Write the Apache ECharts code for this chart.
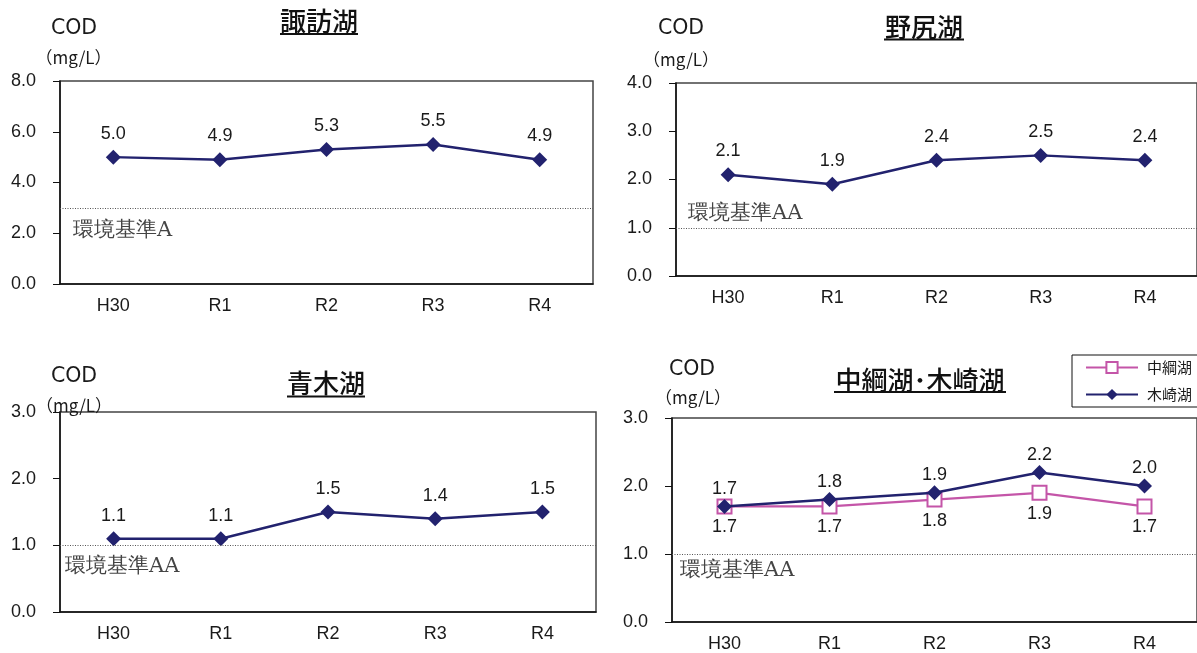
<!DOCTYPE html>
<html><head><meta charset="utf-8">
<script src="https://cdn.jsdelivr.net/npm/echarts@6/dist/echarts.min.js"></script>
<style>html,body{margin:0;padding:0;background:#fff}#c{width:1197px;height:653px}</style>
</head><body><div id="c"></div>
<script>
// ---- data ----
const years = ['H30', 'R1', 'R2', 'R3', 'R4'];
const suwa = [5.0, 4.9, 5.3, 5.5, 4.9];
const nojiri = [2.1, 1.9, 2.4, 2.5, 2.4];
const aoki = [1.1, 1.1, 1.5, 1.4, 1.5];
const nakatsuna = [1.7, 1.7, 1.8, 1.9, 1.7];
const kizaki = [1.7, 1.8, 1.9, 2.2, 2.0];
const titles = ['諏訪湖', '野尻湖', '青木湖', '中綱湖･木崎湖'];
const stdNames = ['環境基準A', '環境基準AA', '環境基準AA', '環境基準AA'];
const stdValues = [3.0, 1.0, 1.0, 1.0];
const yMax = [8, 4, 3, 3];
const yStep = [2, 1, 1, 1];
const seriesNames = ['諏訪湖', '野尻湖', '青木湖', '中綱湖', '木崎湖'];

// ---- styling / layout ----
const NAVY = '#22226e', PINK = '#c455a8';
const FONT = '"Liberation Sans", Arial, sans-serif';
const TXT = '#1a1a1a';
const grids = [
  {left: 60, top: 81, width: 533, height: 203},
  {left: 676, top: 83, width: 528, height: 193},
  {left: 60, top: 412, width: 536, height: 200},
  {left: 672, top: 418, width: 535, height: 204}
];
const stdLabel = [
  {pos: 'insideStartBottom', dist: [13, 12]},
  {pos: 'insideStartTop', dist: [12, 4]},
  {pos: 'insideStartBottom', dist: [5, 11]},
  {pos: 'insideStartBottom', dist: [8, 6]}
];

const chart = echarts.init(document.getElementById('c'));

const xAxes = grids.map((g, i) => ({
  type: 'category', gridIndex: i, data: years, boundaryGap: true,
  axisLine: {lineStyle: {color: '#111', width: 1.5}},
  axisTick: {show: false},
  axisLabel: {color: TXT, fontSize: 18, fontFamily: FONT, margin: 13}
}));
const yAxes = grids.map((g, i) => ({
  type: 'value', gridIndex: i, min: 0, max: yMax[i], interval: yStep[i],
  axisLine: {show: true, lineStyle: {color: '#111', width: 1.5}},
  axisTick: {show: true, inside: false, length: 7, lineStyle: {color: '#111', width: 1}},
  splitLine: {show: false},
  axisLabel: {color: TXT, fontSize: 18, fontFamily: FONT, margin: 24,
    formatter: v => v.toFixed(1)}
}));

function mkMarkLine(i) {
  return {
    silent: true, symbol: 'none',
    lineStyle: {type: [1, 1.5], color: '#555', width: 1},
    label: {show: true, formatter: stdNames[i], position: stdLabel[i].pos,
      distance: stdLabel[i].dist, color: '#444', fontSize: 21,
      fontFamily: '"DejaVu Serif", serif'},
    data: [{yAxis: stdValues[i]}]
  };
}

function navySeries(name, data, i, dist) {
  return {
    name: name, type: 'line', xAxisIndex: i, yAxisIndex: i, data: data,
    symbol: 'diamond', symbolSize: 15, showAllSymbol: true,
    lineStyle: {color: NAVY, width: 2.5}, itemStyle: {color: NAVY},
    label: {show: true, position: 'top', distance: dist, color: TXT,
      fontSize: 18, fontFamily: FONT, formatter: p => p.value.toFixed(1)},
    z: 3
  };
}

const series = [
  Object.assign(navySeries(seriesNames[0], suwa, 0, 7), {markLine: mkMarkLine(0)}),
  Object.assign(navySeries(seriesNames[1], nojiri, 1, 7), {markLine: mkMarkLine(1)}),
  Object.assign(navySeries(seriesNames[2], aoki, 2, 6), {markLine: mkMarkLine(2)}),
  {
    name: seriesNames[3], type: 'line', xAxisIndex: 3, yAxisIndex: 3, data: nakatsuna,
    symbol: 'rect', symbolSize: 14, showAllSymbol: true,
    lineStyle: {color: PINK, width: 2.2}, itemStyle: {color: '#fff', borderColor: PINK, borderWidth: 2},
    label: {show: true, position: 'bottom', distance: 4, color: TXT,
      fontSize: 18, fontFamily: FONT, formatter: p => p.value.toFixed(1)},
    markLine: mkMarkLine(3), z: 2
  },
  navySeries(seriesNames[4], kizaki, 3, 1)
];

// header texts
const codPos = [[74, 28.5], [681, 29], [74, 377], [692, 370]];
const unitPos = [[73.5, 57.5], [681, 59.5], [74, 405.5], [693, 397.5]];
const titlePos = [[319, 21, 280, 358, 34], [924, 27, 884, 964, 39.5], [326, 383, 287, 365, 396.5], [920, 380.5, 834, 1006, 392]];
const graphics = [];
codPos.forEach(p => graphics.push({type: 'text', x: p[0], y: p[1],
  style: {text: 'COD', fill: TXT, font: '20.5px "DejaVu Sans", sans-serif', textAlign: 'center', textVerticalAlign: 'middle'}}));
unitPos.forEach(p => graphics.push({type: 'text', x: p[0], y: p[1],
  style: {text: '（mg/L）', fill: TXT, font: '17px "Noto Sans CJK JP", sans-serif', textAlign: 'center', textVerticalAlign: 'middle'}}));
titlePos.forEach((p, i) => {
  graphics.push({type: 'text', x: p[0], y: p[1],
    style: {text: titles[i], fill: '#111', font: '500 26px "Noto Sans CJK JP", sans-serif', textAlign: 'center', textVerticalAlign: 'middle'}});
  graphics.push({type: 'line', shape: {x1: p[2], y1: p[4], x2: p[3], y2: p[4]},
    style: {stroke: '#111', lineWidth: 2}});
});

chart.setOption({
  animation: false,
  grid: grids.map(g => Object.assign({show: true, borderColor: '#444', borderWidth: 1.5, containLabel: false}, g)),
  xAxis: xAxes,
  yAxis: yAxes,
  legend: {
    data: [seriesNames[3], seriesNames[4]], orient: 'vertical',
    left: 1072, top: 355, padding: [5, 10, 5, 13],
    itemWidth: 52, itemHeight: 14, itemGap: 12,
    borderColor: '#111', borderWidth: 1, backgroundColor: '#fff',
    textStyle: {fontSize: 15, color: TXT, fontFamily: '"Noto Sans CJK JP", sans-serif', padding: [0, 0, 0, 4]}
  },
  graphic: graphics,
  series: series
});
</script></body></html>
